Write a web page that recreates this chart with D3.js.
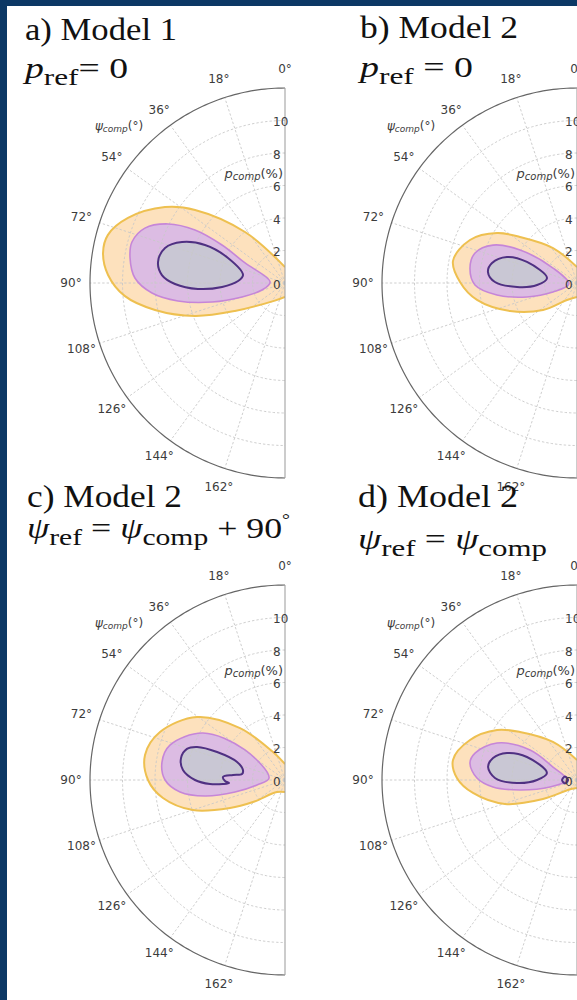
<!DOCTYPE html>
<html><head><meta charset="utf-8">
<script src="https://cdn.jsdelivr.net/npm/d3@7"></script>
<style>body{margin:0;background:#fff} svg{display:block} text{white-space:pre}</style>
</head><body><svg id="c" width="577" height="1000"></svg>
<script>
// ---------- data ----------
const angleTicks = [0, 18, 36, 54, 72, 90, 108, 126, 144, 162];   // psi_comp (deg)
const radialTicks = [0, 2, 4, 6, 8, 10];                          // p_comp (%)
const radialMax = 12;
const titles = ["a) Model 1", "b) Model 2", "c) Model 2", "d) Model 2"];
const subtitles = [
  [["p","i"],["ref","sub"],["= 0",""]],
  [["p","i"],["ref","sub"],[" = 0",""]],
  [["ψ","i"],["ref","sub"],[" = ",""],["ψ","i"],["comp","sub"],[" + 90",""],["°","sup"]],
  [["ψ","i"],["ref","sub"],[" = ",""],["ψ","i"],["comp","sub"]]
];
// contour boundaries: [psi_comp (deg), p_comp (%)]
const outerA = [[0,0.98],[38.1,3.99],[50.9,7.13],[57.7,8.74],[67.5,10.46],[74.8,11.29],[80.6,11.35],[87.4,10.90],[94.6,9.90],[101.7,8.17],[110.1,5.90],[119.2,3.53],[150.0,1.25],[180,0.86]];
const midA   = [[86.2,0.92],[63.4,2.75],[58.9,4.53],[59.5,6.43],[63.2,8.06],[68.6,9.26],[75.0,9.75],[80.8,9.66],[88.1,9.24],[94.3,8.21],[99.5,6.68],[104.6,4.64],[108.0,2.78],[106.9,1.48]];
const innerA = [[79.2,2.63],[66.3,3.83],[64.6,5.45],[68.3,6.82],[73.7,7.69],[80.6,7.92],[86.3,7.59],[90.5,6.77],[93.9,5.37],[93.6,3.88],[87.6,2.89]];

const outerB = [[0,0.98],[34.4,2.61],[51.1,4.51],[58.0,5.80],[68.1,7.10],[79.9,7.75],[89.5,7.20],[99.6,6.24],[112.7,4.47],[128.5,2.67],[149.5,1.21],[180,0.86]];
const midB   = [[97,0.50],[58.0,1.74],[59.9,4.05],[65.7,5.67],[73.6,6.54],[82.0,6.65],[91.1,6.28],[98.5,4.98],[105.6,3.20],[110.6,1.58]];
const innerB = [[80.5,1.87],[67.2,3.34],[69.6,4.60],[76.8,5.37],[83.0,5.52],[89.3,5.05],[93.8,3.70],[92.9,2.46]];

const outerC = [[0,0.98],[23.2,1.87],[40.9,4.23],[54.4,6.66],[69.0,8.24],[79.9,8.75],[90,8.43],[98.4,7.59],[108.1,5.96],[117.0,3.80],[124.5,2.39],[146.3,0.89],[180,0.74]];
const midC   = [[82.9,0.99],[53.1,3.08],[60.2,5.82],[73.1,7.40],[81.7,7.65],[90,7.38],[96.5,6.50],[101.3,5.02],[103.5,3.16],[100.1,1.75]];
const innerC = [[69.4,5.78],[67.6,4.52],[69.4,3.15],[76.6,2.66],[82.1,2.67],[84.5,3.21],[87.2,3.82],[91.0,3.69],[93.1,3.45],[93.7,3.82],[93.1,4.62],[90,5.54],[84.4,6.31],[78.1,6.54],[72.4,6.33]];

const outerD = [[0,1.23],[32.3,2.77],[49.9,4.59],[58.0,5.80],[69.5,7.03],[80.8,7.73],[89.0,7.39],[97.1,6.45],[108.4,4.67],[119.2,2.40],[146.3,0.67],[180,0.49]];
const midD   = [[90,0.62],[61.6,1.68],[57.4,3.43],[65.2,5.42],[75.2,6.49],[81.0,6.67],[88.9,6.16],[94.8,5.19],[99.9,3.56],[104.5,1.72]];
const innerD = [[76.9,1.90],[65.3,3.39],[68.9,4.62],[75.3,5.34],[81.7,5.53],[88.6,5.05],[92.9,3.70],[90,2.46]];
const innerD2 = [[90,0.55],[73.7,0.77],[90,0.92],[106.3,0.77]];

// ---------- layout ----------
const panels = [
  {cx:285, cy:283, outer:outerA, mid:midA, inner:[innerA], t:{x:25,y:40,w:152}, s:{x:25,y:78,w:103}},
  {cx:577, cy:283, outer:outerB, mid:midB, inner:[innerB], t:{x:360,y:38,w:158}, s:{x:360,y:77,w:113}},
  {cx:285, cy:780, outer:outerC, mid:midC, inner:[innerC], t:{x:27,y:507,w:155}, s:{x:27,y:538,w:263}},
  {cx:577, cy:780, outer:outerD, mid:midD, inner:[innerD, innerD2], t:{x:358,y:507,w:160}, s:{x:358,y:549,w:189}}
];
const R = 195;
const rScale = d3.scaleLinear().domain([0, radialMax]).range([0, R]);
const aScale = d3.scaleLinear().domain([0, 180]).range([0, -Math.PI]);
const col = {
  oFill:"#fde1bd", oLine:"#eec050", mFill:"#dcbce3", mLine:"#c686d8",
  iFill:"#c9c7d4", iLine:"#4f3082", grid:"#c8c8c8", text:"#3c3c3c"
};

const svg = d3.select("#c");
svg.append("rect").attr("width",577).attr("height",1000).attr("fill","#fff");

const openCurve = d3.lineRadial().angle(d => aScale(d[0])).radius(d => rScale(d[1]))
  .curve(d3.curveCatmullRom.alpha(0.5));
const closedCurve = d3.lineRadial().angle(d => aScale(d[0])).radius(d => rScale(d[1]))
  .curve(d3.curveCatmullRomClosed.alpha(0.5));

const defs = svg.append("defs");
defs.append("clipPath").attr("id","half").append("rect")
  .attr("x",-R-5).attr("y",-R-5).attr("width",R+5).attr("height",2*R+10);

panels.forEach((P, i) => {
  const g = svg.append("g").attr("transform",`translate(${P.cx},${P.cy})`);
  const cg = g.append("g").attr("clip-path","url(#half)");
  // fills
  cg.append("path").attr("d", openCurve(P.outer) + "L0,0Z").attr("fill", col.oFill);
  cg.append("path").attr("d", closedCurve(P.mid)).attr("fill", col.mFill);
  P.inner.forEach(c => cg.append("path").attr("d", closedCurve(c)).attr("fill", col.iFill));
  // grid
  const sweep = d3.range(0, 180.5, 1);
  radialTicks.filter(v => v > 0).forEach(v => {
    cg.append("path")
      .attr("d", d3.lineRadial().angle(d => aScale(d)).radius(rScale(v))(sweep))
      .attr("fill","none").attr("stroke",col.grid).attr("stroke-width",0.9)
      .attr("stroke-dasharray","2.4,2");
  });
  angleTicks.filter(a => a > 0).forEach(a => {
    cg.append("path")
      .attr("d", d3.lineRadial().angle(aScale(a)).radius(d => rScale(d))([0, radialMax]))
      .attr("stroke",col.grid).attr("stroke-width",0.9).attr("stroke-dasharray","2.4,2");
  });
  // contour lines
  cg.append("path").attr("d", openCurve(P.outer)).attr("fill","none")
    .attr("stroke", col.oLine).attr("stroke-width",2);
  cg.append("path").attr("d", closedCurve(P.mid)).attr("fill","none")
    .attr("stroke", col.mLine).attr("stroke-width",1.6);
  P.inner.forEach(c => cg.append("path").attr("d", closedCurve(c)).attr("fill","none")
    .attr("stroke", col.iLine).attr("stroke-width",2));
  // frame
  g.append("path").attr("d", d3.lineRadial().angle(d => aScale(d)).radius(rScale(radialMax))(sweep))
    .attr("fill","none").attr("stroke","#666").attr("stroke-width",1.2);
  g.append("line").attr("x1",0).attr("x2",0).attr("y1",-rScale(radialMax)).attr("y2",rScale(radialMax))
    .attr("stroke","#999").attr("stroke-width",1);
  // angle labels
  angleTicks.forEach(a => {
    const rr = R + 19, ang = aScale(a);
    g.append("text").attr("x", rr*Math.sin(ang)).attr("y", -rr*Math.cos(ang))
      .attr("text-anchor","middle").attr("dominant-baseline","central")
      .attr("font-family","DejaVu Sans").attr("font-size",12).attr("fill",col.text)
      .text(a + "°");
  });
  // radial labels
  radialTicks.forEach(v => {
    g.append("text").attr("x",-12).attr("y",-rScale(v)+1.5)
      .attr("dominant-baseline","central")
      .attr("font-family","DejaVu Sans").attr("font-size",12).attr("fill",col.text)
      .text(v);
  });
  // axis labels
  const pl = g.append("text").attr("x",-166).attr("y",-157).attr("text-anchor","middle")
    .attr("dominant-baseline","central").attr("font-family","DejaVu Sans").attr("fill",col.text);
  pl.append("tspan").attr("font-size",12).attr("font-style","italic").text("ψ");
  pl.append("tspan").attr("font-size",9).attr("font-style","italic").attr("dy",3).text("comp");
  pl.append("tspan").attr("font-size",12).attr("dy",-3).text("(°)");
  const rl = g.append("text").attr("x",-2).attr("y",-110).attr("text-anchor","end")
    .attr("dominant-baseline","central").attr("font-family","DejaVu Sans").attr("fill",col.text);
  rl.append("tspan").attr("font-size",13).attr("font-style","italic").text("p");
  rl.append("tspan").attr("font-size",10).attr("font-style","italic").attr("dy",3).text("comp");
  rl.append("tspan").attr("font-size",13).attr("dy",-3).text("(%)");

  // titles
  svg.append("text").attr("x",P.t.x).attr("y",P.t.y)
    .attr("font-family","Liberation Serif").attr("font-size",31).attr("fill","#111")
    .attr("textLength",P.t.w).attr("lengthAdjust","spacingAndGlyphs").text(titles[i]);
  const st = svg.append("text").attr("x",P.s.x).attr("y",P.s.y)
    .attr("font-family","Liberation Serif").attr("fill","#111")
    .attr("textLength",P.s.w).attr("lengthAdjust","spacingAndGlyphs");
  let shift = 0;
  subtitles[i].forEach(([t, k]) => {
    const target = k === "sub" ? 7 : k === "sup" ? -13 : 0;
    st.append("tspan").attr("dy", target - shift)
      .attr("font-size", k === "sub" ? 24 : k === "sup" ? 16 : 29)
      .attr("font-style", k === "i" ? "italic" : "normal").text(t);
    shift = target;
  });
});

// navy frame strips
svg.append("rect").attr("x",0).attr("y",0).attr("width",577).attr("height",6).attr("fill","#0c3865");
svg.append("rect").attr("x",0).attr("y",0).attr("width",7).attr("height",1000).attr("fill","#0c3865");
</script>
</body></html>
